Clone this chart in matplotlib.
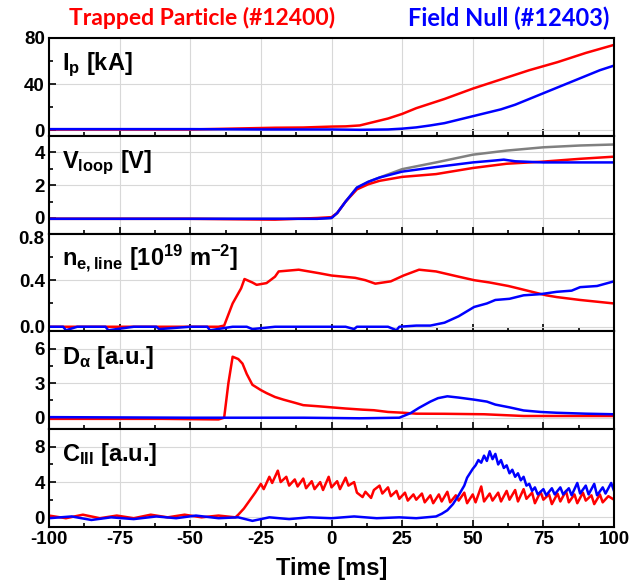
import matplotlib
matplotlib.use('Agg')
import matplotlib.pyplot as plt
import matplotlib.transforms as mtransforms
from matplotlib.ticker import AutoMinorLocator, FormatStrFormatter

plt.rcParams['font.family'] = ['Liberation Sans', 'DejaVu Sans']
plt.rcParams['font.weight'] = 'bold'
plt.rcParams['axes.unicode_minus'] = False
plt.rcParams['mathtext.fontset'] = 'custom'
plt.rcParams['mathtext.rm'] = 'Liberation Sans'
plt.rcParams['mathtext.bf'] = 'Liberation Sans:bold'
plt.rcParams['mathtext.it'] = 'Liberation Sans:italic'

# ---- data: (time [ms], value) ----
ip_red = [(-100, 0.5), (-75, 0.5), (-50, 0.5), (-40, 1.0), (-30, 1.5), (-20, 2.0), (-10, 2.2),
          (0, 3.0), (5, 3.2), (10, 4.0), (15, 7.0), (20, 10), (25, 14), (30, 19), (40, 27),
          (50, 36), (60, 44), (70, 52), (80, 59), (90, 67), (100, 74)]
ip_blue = [(-100, 0.8), (-50, 0.8), (-25, 0.5), (0, 0.5), (10, 0.2), (20, 0.5), (25, 1.2),
           (30, 2.3), (35, 4), (40, 6), (45, 9), (50, 12), (55, 15), (60, 18), (65, 22),
           (70, 27), (75, 32), (80, 37), (85, 42), (90, 47), (95, 52), (100, 56)]

vloop_red = [(-100, -0.05), (-50, -0.05), (-20, -0.1), (-5, 0.0), (0, 0.05), (2, 0.3), (5, 1.0),
             (9, 1.74), (13, 2.05), (17, 2.26), (25, 2.5), (37, 2.67), (50, 3.04), (62, 3.3),
             (75, 3.43), (88, 3.6), (100, 3.73)]
vloop_blue = [(-100, -0.05), (-50, -0.05), (-5, -0.05), (0, 0.0), (2, 0.3), (5, 1.0), (9, 1.85),
              (13, 2.2), (17, 2.46), (25, 2.82), (37, 3.1), (50, 3.38), (58, 3.5), (61, 3.55),
              (65, 3.45), (75, 3.38), (88, 3.38), (100, 3.38)]
vloop_gray = [(-100, -0.05), (-50, -0.05), (-5, -0.05), (0, 0.0), (2, 0.3), (5, 1.0), (9, 1.85),
              (13, 2.2), (17, 2.46), (25, 2.97), (37, 3.38), (50, 3.85), (62, 4.1), (75, 4.3),
              (88, 4.41), (100, 4.47)]

ne_red = [(-100, 0), (-60, 0), (-40, 0), (-38, 0.01), (-35, 0.2), (-32, 0.33), (-30.8, 0.41),
          (-28, 0.38), (-26.5, 0.36), (-23, 0.375), (-20, 0.43), (-18.7, 0.475), (-11.6, 0.49),
          (-4.4, 0.46), (0, 0.44), (8.4, 0.42), (12, 0.40), (15.5, 0.37), (21, 0.39), (25.5, 0.44),
          (31, 0.49), (37, 0.475), (45, 0.43), (50.5, 0.40), (56, 0.38), (62.6, 0.35), (66, 0.33),
          (71, 0.30), (76, 0.27), (79.7, 0.255), (88, 0.23), (100, 0.2)]
ne_blue = [(-100, 0), (-95, 0), (-94, -0.03), (-90, 0), (-80, 0), (-79, -0.03), (-70, 0), (-62, 0),
           (-61, -0.02), (-50, 0), (-44, 0), (-43, -0.03), (-35, 0), (-30, 0), (-28, -0.02),
           (-20, 0), (-10, 0), (0, 0), (5, 0), (8, -0.02), (9, 0), (15, 0), (20, 0), (23, -0.03),
           (24, 0), (30, 0.01), (35, 0.01), (40, 0.035), (45, 0.09), (50.5, 0.17), (55, 0.2),
           (58, 0.23), (63, 0.24), (68, 0.27), (74, 0.28), (79.7, 0.30), (85, 0.31), (88, 0.34),
           (94, 0.35), (100, 0.39)]

da_red = [(-100, -0.1), (-80, -0.1), (-60, -0.1), (-40, -0.15), (-38, 0.0), (-36.5, 3.0), (-35, 5.3),
          (-33, 5.1), (-31.5, 4.7), (-30, 3.8), (-28, 2.86), (-25, 2.4), (-23, 2.14), (-20, 1.8),
          (-17, 1.57), (-13, 1.3), (-10, 1.09), (-5, 1.0), (0, 0.9), (5, 0.8), (11, 0.7), (15, 0.65),
          (20, 0.5), (25.5, 0.43), (30, 0.35), (40, 0.34), (54, 0.3), (68, 0.15), (80, 0.15),
          (100, 0.15)]
da_blue = [(-100, 0.05), (-50, 0.0), (-10, 0.0), (10, -0.05), (24, 0.0), (28, 0.4), (31, 0.86),
           (35, 1.4), (37.7, 1.7), (41, 1.86), (45, 1.75), (50.5, 1.57), (55, 1.4), (58, 1.14),
           (63, 0.9), (68, 0.63), (74, 0.5), (79.7, 0.43), (90, 0.35), (100, 0.3)]

c3_red = [(-100, 0.2), (-94, -0.1), (-88, 0.3), (-82, -0.1), (-76, 0.2), (-70, -0.1), (-64, 0.3),
          (-58, 0.0), (-52, 0.3), (-46, 0.0), (-40, 0.2), (-34, 0.0), (-33, 0.3), (-31, 1.0),
          (-29, 1.9), (-27, 2.8), (-25, 3.8), (-24, 3.2), (-22, 4.6), (-21, 3.9), (-19, 5.3),
          (-18, 4.0), (-16, 4.6), (-15, 3.6), (-13, 4.3), (-12, 3.5), (-10, 4.4), (-9, 3.3),
          (-7, 4.1), (-6, 3.2), (-4, 4.0), (-3, 3.1), (-1, 4.6), (0, 3.4), (2, 4.1), (3, 3.2),
          (5, 4.5), (6, 3.6), (8, 4.0), (9, 2.8), (11, 2.3), (12, 2.9), (14, 2.2), (15, 3.1),
          (17, 3.6), (18, 2.7), (20, 3.4), (21, 2.4), (23, 3.0), (24, 2.1), (26, 2.8), (27, 1.9),
          (29, 2.6), (30, 2.0), (32, 2.7), (33, 1.7), (35, 2.5), (36, 1.6), (38, 2.6), (39, 1.8),
          (41, 2.9), (42, 1.7), (44, 2.5), (45, 1.9), (47, 2.8), (48, 1.6), (50, 2.6), (51, 1.7),
          (53, 3.5), (54, 1.8), (56, 2.7), (57, 1.9), (59, 2.8), (60, 1.8), (62, 3.0), (63, 2.0),
          (65, 3.1), (66, 1.8), (68, 3.2), (69, 2.1), (71, 2.8), (72, 1.6), (74, 2.9), (75, 2.0),
          (77, 2.6), (78, 1.5), (80, 2.7), (81, 1.8), (83, 3.0), (84, 1.7), (86, 2.6), (87, 1.6),
          (89, 2.8), (90, 1.9), (92, 2.5), (93, 1.5), (95, 2.6), (96, 1.7), (98, 2.4), (100, 2.0)]
c3_blue = [(-100, -0.1), (-92, 0.1), (-85, -0.3), (-78, 0.0), (-70, -0.2), (-62, 0.1), (-55, -0.1),
           (-48, 0.2), (-40, -0.1), (-33, 0.0), (-28, -0.4), (-22, 0.0), (-15, -0.2), (-8, 0.0),
           (0, -0.1), (8, 0.1), (16, -0.1), (24, 0.0), (30, -0.1), (37, 0.1), (39, 0.4), (41, 0.8),
           (43, 1.5), (45, 2.5), (47, 3.6), (48, 4.5), (50, 5.5), (51, 5.9), (52, 6.5), (53, 6.2),
           (54, 7.0), (55, 6.4), (56, 7.5), (57, 6.6), (58, 7.2), (59, 6.0), (60, 6.5), (61, 5.6),
           (62, 5.9), (63, 5.0), (64, 5.4), (65, 4.6), (66, 5.0), (67, 4.2), (68, 4.6), (69, 3.6),
           (70, 3.8), (71, 3.0), (72, 3.4), (73, 2.6), (75, 3.2), (76, 2.5), (78, 3.3), (79, 2.6),
           (81, 3.4), (82, 2.6), (84, 3.3), (85, 2.5), (87, 3.9), (88, 2.7), (90, 3.6), (91, 2.6),
           (93, 3.8), (94, 2.5), (96, 3.4), (97, 2.7), (99, 3.9), (100, 3.0)]

panel_labels = [r'$\mathbf{I}_{\mathrm{p}}$ [kA]',
                r'$\mathbf{V}_{\mathbf{loop}}$ [V]',
                r'$\mathbf{n}_{\mathbf{e,line}}$ [10$^{\mathrm{19}}$ m$^{\mathrm{-2}}$]',
                r'$\mathbf{D}_{\mathrm{\alpha}}$ [a.u.]',
                r'$\mathbf{C}_{\mathrm{III}}$ [a.u.]']
yticks = [[0, 40, 80], [0, 2, 4], [0.0, 0.4, 0.8], [0, 3, 6], [0, 4, 8]]
ylims = [(-5, 80), (-0.95, 5), (-0.04, 0.8), (-1, 7.5), (-1.1, 10)]
xticks = [-100, -75, -50, -25, 0, 25, 50, 75, 100]

panels = [[(ip_red, 'red'), (ip_blue, 'blue')],
          [(vloop_gray, '#808080'), (vloop_red, 'red'), (vloop_blue, 'blue')],
          [(ne_red, 'red'), (ne_blue, 'blue')],
          [(da_red, 'red'), (da_blue, 'blue')],
          [(c3_red, 'red'), (c3_blue, 'blue')]]

fig, axes = plt.subplots(5, 1, sharex=True, figsize=(6.33, 5.88), dpi=100)
fig.subplots_adjust(left=0.0774, right=0.970, top=0.9354, bottom=0.1037, hspace=0)

for i, ax in enumerate(axes):
    for series, c in panels[i]:
        t = [p[0] for p in series]
        v = [p[1] for p in series]
        ax.plot(t, v, color=c, lw=1.8)
    ax.set_xlim(-100, 100)
    ax.set_ylim(*ylims[i])
    ax.set_yticks(yticks[i])
    ax.set_xticks(xticks)
    ax.xaxis.set_minor_locator(AutoMinorLocator(2))
    ax.yaxis.set_minor_locator(AutoMinorLocator(2))
    if i == 2:
        ax.yaxis.set_major_formatter(FormatStrFormatter('%.1f'))
    ax.grid(True, which='major', color='#d8d8d8', lw=0.8)
    ax.set_axisbelow(True)
    ax.tick_params(which='both', direction='in', width=1.2, labelsize=13.5, pad=3)
    ax.tick_params(which='major', length=5)
    ax.tick_params(which='minor', length=3)
    for s in ax.spines.values():
        s.set_linewidth(1.5)
    ax.text(0.023, 0.67, panel_labels[i], transform=ax.transAxes, fontsize=17,
            fontweight='bold', va='baseline', ha='left')

# nudge the top label of the density panel down a little so it clears the "0" above
shift = mtransforms.ScaledTranslation(0, -2.5 / 72, fig.dpi_scale_trans)
top_lbl = axes[2].get_yticklabels()[-1]
top_lbl.set_transform(top_lbl.get_transform() + shift)

axes[-1].set_xlabel('Time [ms]', fontsize=17, fontweight='bold', labelpad=6)

fig.text(0.319, 0.969, 'Trapped Particle (#12400)', color='red', fontsize=16.5,
         fontweight='bold', ha='center', va='center', family=['Lato', 'DejaVu Sans'])
fig.text(0.803, 0.969, 'Field Null (#12403)', color='blue', fontsize=17,
         fontweight='bold', ha='center', va='center', family=['Lato', 'DejaVu Sans'])

fig.savefig('out.png', dpi=100)
